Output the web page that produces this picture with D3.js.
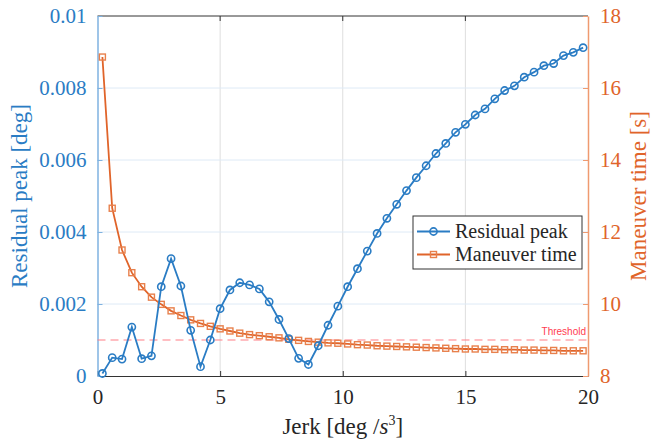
<!DOCTYPE html>
<html>
<head>
<meta charset="utf-8">
<script src="https://cdn.jsdelivr.net/npm/d3@7"></script>
<style>
  body { margin: 0; background: #fff; }
  svg { display: block; }
</style>
</head>
<body>
<script>
// jerk values [deg/s^3]
var jerk = [0.2, 0.6, 1.0, 1.4, 1.8, 2.2, 2.6, 3.0, 3.4, 3.8,
    4.2, 4.6, 5.0, 5.4, 5.8, 6.2, 6.6, 7.0, 7.4, 7.8,
    8.2, 8.6, 9.0, 9.4, 9.8, 10.2, 10.6, 11.0, 11.4, 11.8,
    12.2, 12.6, 13.0, 13.4, 13.8, 14.2, 14.6, 15.0, 15.4, 15.8,
    16.2, 16.6, 17.0, 17.4, 17.8, 18.2, 18.6, 19.0, 19.4, 19.8];

// residual peak [deg]
var residualPeak = [0.00007, 0.00051, 0.00047, 0.00136, 0.00048, 0.00056, 0.00248, 0.00326, 0.00250, 0.00127,
    0.00026, 0.00100, 0.00187, 0.00239, 0.00259, 0.00253, 0.00242, 0.00206, 0.00157, 0.00104,
    0.00049, 0.00032, 0.00084, 0.00141, 0.00194, 0.00248, 0.00298, 0.00347, 0.00396, 0.00438,
    0.00477, 0.00515, 0.00551, 0.00584, 0.00618, 0.00646, 0.00677, 0.00699, 0.00725, 0.00742,
    0.00770, 0.00793, 0.00806, 0.00830, 0.00844, 0.00862, 0.00868, 0.00890, 0.00899, 0.00912];

// maneuver time [s]
var maneuverTime = [16.86, 12.66, 11.50, 10.87, 10.48, 10.19, 9.99, 9.81, 9.68, 9.56,
    9.46, 9.38, 9.31, 9.25, 9.19, 9.15, 9.12, 9.09, 9.06, 9.02,
    8.99, 8.96, 8.94, 8.92, 8.91, 8.89, 8.87, 8.86, 8.84, 8.83,
    8.82, 8.81, 8.80, 8.79, 8.78, 8.77, 8.76, 8.75, 8.75, 8.74,
    8.74, 8.73, 8.73, 8.72, 8.72, 8.71, 8.71, 8.70, 8.70, 8.70];

var threshold = 0.001;
var xTicks = [0, 5, 10, 15, 20];
var leftTicks = [0, 0.002, 0.004, 0.006, 0.008, 0.01];
var leftTickLabels = ["0", "0.002", "0.004", "0.006", "0.008", "0.01"];
var rightTicks = [8, 10, 12, 14, 16, 18];

var blue = "#2a7cc4";
var orange = "#e0642a";
var serif = "'Liberation Serif', 'Times New Roman', serif";

var width = 652, height = 448;
// plot box (note: "top" is a reserved window global, so prefix these)
var pLeft = 97.5, pRight = 588, pTop = 16, pBottom = 376;

var svg = d3.select("body").append("svg")
    .attr("width", width)
    .attr("height", height);

var x = d3.scaleLinear().domain([0, 20]).range([pLeft, pRight]);
var yL = d3.scaleLinear().domain([0, 0.01]).range([pBottom, pTop]);
var yR = d3.scaleLinear().domain([8, 18]).range([pBottom, pTop]);

// grid
svg.append("g").selectAll("line")
    .data(xTicks.slice(1, -1))
    .enter().append("line")
    .attr("x1", d => x(d)).attr("x2", d => x(d))
    .attr("y1", pTop).attr("y2", pBottom)
    .attr("stroke", "#dedede").attr("stroke-width", 1);

svg.append("g").selectAll("line")
    .data(leftTicks.slice(1, -1))
    .enter().append("line")
    .attr("x1", pLeft).attr("x2", pRight)
    .attr("y1", d => yL(d)).attr("y2", d => yL(d))
    .attr("stroke", "#deeaf6").attr("stroke-width", 1);

// top box edge + ticks
svg.append("line")
    .attr("x1", pLeft).attr("x2", pRight)
    .attr("y1", pTop).attr("y2", pTop)
    .attr("stroke", "#333").attr("stroke-width", 1);

svg.append("g").selectAll("line")
    .data(xTicks.slice(1, -1))
    .enter().append("line")
    .attr("x1", d => x(d)).attr("x2", d => x(d))
    .attr("y1", pTop).attr("y2", pTop + 5)
    .attr("stroke", "#333");

// bottom axis
var xAxis = svg.append("g")
    .attr("transform", "translate(0," + pBottom + ")")
    .call(d3.axisBottom(x).tickValues(xTicks).tickSizeInner(-5).tickSizeOuter(0).tickPadding(13));
xAxis.select(".domain").attr("stroke", "#333");
xAxis.selectAll(".tick line").attr("stroke", "#333");
xAxis.selectAll(".tick text")
    .style("font-family", serif)
    .style("font-size", "21px")
    .attr("fill", "#262626");

// left axis
var axL = svg.append("g")
    .attr("transform", "translate(" + pLeft + ",0)")
    .call(d3.axisLeft(yL).tickValues(leftTicks).tickFormat((d, i) => leftTickLabels[i])
        .tickSizeInner(-5).tickSizeOuter(0).tickPadding(11));
axL.select(".domain").attr("stroke", "#7fb2e0").attr("stroke-width", 1.5);
axL.selectAll(".tick line").attr("stroke", "#7fb2e0");
axL.selectAll(".tick text")
    .style("font-family", serif)
    .style("font-size", "21px")
    .attr("fill", blue);

// right axis
var axR = svg.append("g")
    .attr("transform", "translate(" + pRight + ",0)")
    .call(d3.axisRight(yR).tickValues(rightTicks).tickSizeInner(-5).tickSizeOuter(0).tickPadding(12));
axR.select(".domain").attr("stroke", "#ef9a70").attr("stroke-width", 1.5);
axR.selectAll(".tick line").attr("stroke", "#ef9a70");
axR.selectAll(".tick text")
    .style("font-family", serif)
    .style("font-size", "21px")
    .attr("fill", orange);

// axis labels
svg.append("text")
    .attr("transform", "translate(27," + ((pTop + pBottom) / 2) + ") rotate(-90)")
    .attr("text-anchor", "middle")
    .style("font-family", serif)
    .style("font-size", "23px")
    .attr("fill", blue)
    .text("Residual peak [deg]");

svg.append("text")
    .attr("transform", "translate(646," + ((pTop + pBottom) / 2) + ") rotate(-90)")
    .attr("text-anchor", "middle")
    .style("font-family", serif)
    .style("font-size", "23px")
    .attr("fill", orange)
    .text("Maneuver time [s]");

var xl = svg.append("text")
    .attr("x", (pLeft + pRight) / 2)
    .attr("y", 434)
    .attr("text-anchor", "middle")
    .style("font-family", serif)
    .style("font-size", "23px")
    .attr("fill", "#262626");
xl.append("tspan").text("Jerk [deg /");
xl.append("tspan").attr("font-style", "italic").text("s");
xl.append("tspan").style("font-size", "14px").attr("dy", -9).text("3");
xl.append("tspan").attr("dy", 9).text("]");

// threshold line
svg.append("line")
    .attr("x1", pLeft).attr("x2", pRight)
    .attr("y1", yL(threshold)).attr("y2", yL(threshold))
    .attr("stroke", "#ff7f86").attr("stroke-width", 1.2)
    .attr("stroke-dasharray", "8,5");

svg.append("text")
    .attr("x", pRight - 2)
    .attr("y", yL(threshold) - 5)
    .attr("text-anchor", "end")
    .style("font-family", "'Liberation Sans', Arial, sans-serif")
    .style("font-size", "10px")
    .attr("fill", "#ff3c50")
    .text("Threshold");

// maneuver time series
var tData = jerk.map((j, i) => ({ x: j, y: maneuverTime[i] }));
svg.append("path")
    .datum(tData)
    .attr("fill", "none")
    .attr("stroke", orange)
    .attr("stroke-width", 1.8)
    .attr("d", d3.line().x(d => x(d.x)).y(d => yR(d.y)));

svg.append("g").selectAll("rect")
    .data(tData)
    .enter().append("rect")
    .attr("x", d => x(d.x) - 3)
    .attr("y", d => yR(d.y) - 3)
    .attr("width", 6).attr("height", 6)
    .attr("fill", "none")
    .attr("stroke", "#e8804c")
    .attr("stroke-width", 1.4);

// residual peak series
var rData = jerk.map((j, i) => ({ x: j, y: residualPeak[i] }));
svg.append("path")
    .datum(rData)
    .attr("fill", "none")
    .attr("stroke", blue)
    .attr("stroke-width", 1.8)
    .attr("d", d3.line().x(d => x(d.x)).y(d => yL(d.y)));

svg.append("g").selectAll("circle")
    .data(rData)
    .enter().append("circle")
    .attr("cx", d => x(d.x))
    .attr("cy", d => yL(d.y))
    .attr("r", 3.6)
    .attr("fill", "none")
    .attr("stroke", blue)
    .attr("stroke-width", 1.6);

// legend
var lg = svg.append("g").attr("transform", "translate(413,216)");
lg.append("rect")
    .attr("width", 169).attr("height", 53)
    .attr("fill", "#fff")
    .attr("stroke", "#333").attr("stroke-width", 1);

var items = [
    { name: "Residual peak", color: blue, shape: "circle" },
    { name: "Maneuver time", color: orange, shape: "square" }
];
items.forEach((it, i) => {
    var cy = 15.5 + i * 23;
    lg.append("line")
        .attr("x1", 4).attr("x2", 37)
        .attr("y1", cy).attr("y2", cy)
        .attr("stroke", it.color).attr("stroke-width", 1.8);
    if (it.shape == "circle") {
        lg.append("circle").attr("cx", 20.5).attr("cy", cy).attr("r", 3.6)
            .attr("fill", "none").attr("stroke", it.color).attr("stroke-width", 1.6);
    } else {
        lg.append("rect").attr("x", 17.5).attr("y", cy - 3).attr("width", 6).attr("height", 6)
            .attr("fill", "none").attr("stroke", "#e8804c").attr("stroke-width", 1.4);
    }
    lg.append("text")
        .attr("x", 42).attr("y", cy + 6.5)
        .style("font-family", serif)
        .style("font-size", "20px")
        .attr("fill", "#262626")
        .text(it.name);
});
</script>
</body>
</html>
